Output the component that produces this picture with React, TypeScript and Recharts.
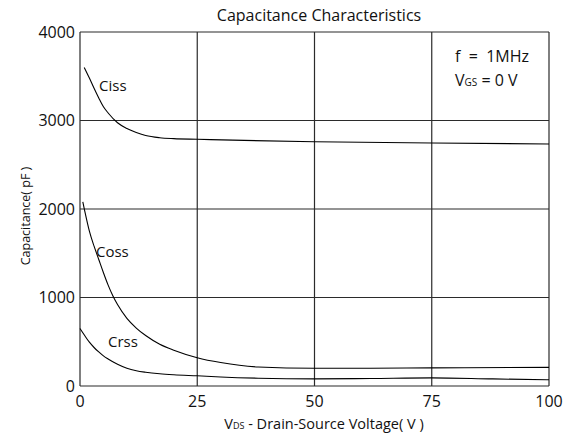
import { LineChart, Line, XAxis, YAxis, CartesianGrid } from "recharts";

// V_DS (V) and capacitance (pF)
const cissVoltage = [0.9, 2, 3, 4, 5, 6, 8, 10, 12, 14, 17, 20, 25, 35, 50, 75, 100];
const cissValues = [3600, 3480, 3365, 3255, 3155, 3085, 2975, 2910, 2865, 2830, 2805, 2795, 2788, 2775, 2760, 2745, 2735];

const cossVoltage = [0.6, 1, 2, 3, 4, 5, 6, 7, 8, 10, 12, 14, 17, 20, 25, 30, 38, 50, 62, 75, 100];
const cossValues = [2080, 1980, 1750, 1580, 1430, 1280, 1140, 1020, 920, 765, 655, 570, 472, 405, 320, 265, 215, 200, 200, 205, 210];

const crssVoltage = [0, 1, 2, 3, 4, 5, 6, 8, 10, 12, 14, 17, 20, 25, 30, 38, 50, 62, 75, 88, 100];
const crssValues = [650, 570, 495, 435, 385, 340, 305, 245, 200, 172, 155, 138, 127, 115, 102, 88, 80, 85, 92, 80, 70];

const xTicks = [0, 25, 50, 75, 100];
const yTicks = [0, 1000, 2000, 3000, 4000];

const toRows = (xs: number[], ys: number[]) => xs.map((v, i) => ({ v, c: ys[i] }));

const ciss = toRows(cissVoltage, cissValues);
const coss = toRows(cossVoltage, cossValues);
const crss = toRows(crssVoltage, crssValues);

const font = "'Open Sans', sans-serif";
const gridColor = "#2b2b2b";

export default function App() {
  return (
    <div style={{ position: "absolute", left: 0, top: 0, width: 576, height: 433, background: "#fff" }}>
      <LineChart
        width={576}
        height={433}
        margin={{ top: 32, right: 27, bottom: 0, left: 0 }}
        style={{ fontFamily: font }}
      >
        <CartesianGrid stroke={gridColor} strokeWidth={1.2} />
        <XAxis
          type="number"
          dataKey="v"
          domain={[0, 100]}
          ticks={xTicks}
          allowDuplicatedCategory={false}
          axisLine={false}
          tickLine={false}
          tickSize={0}
          tickMargin={10}
          height={47}
          tick={{ fill: "#111", fontSize: 16 }}
        />
        <YAxis
          type="number"
          domain={[0, 4000]}
          ticks={yTicks}
          axisLine={false}
          tickLine={false}
          tickSize={0}
          tickMargin={5}
          width={80}
          tick={{ fill: "#111", fontSize: 16 }}
        />
        <Line data={ciss} dataKey="c" type="monotone" stroke="#000" strokeWidth={1.1} dot={false} isAnimationActive={false} />
        <Line data={coss} dataKey="c" type="monotone" stroke="#000" strokeWidth={1.1} dot={false} isAnimationActive={false} />
        <Line data={crss} dataKey="c" type="monotone" stroke="#000" strokeWidth={1.1} dot={false} isAnimationActive={false} />
      </LineChart>

      <svg
        width={576}
        height={433}
        style={{ position: "absolute", left: 0, top: 0, pointerEvents: "none", fontFamily: font }}
      >
        <text x={319} y={21} textAnchor="middle" fontSize={16} fill="#111">
          Capacitance Characteristics
        </text>

        <text x={455} y={62} fontSize={16} fill="#111" xmlSpace="preserve">
          f  =  1MHz
        </text>
        <text x={455} y={86} fontSize={16} fill="#111">
          V<tspan fontSize={10}>GS</tspan> = 0 V
        </text>

        <text x={99} y={91} fontSize={15} fill="#111">Ciss</text>
        <text x={96} y={257} fontSize={15} fill="#111">Coss</text>
        <text x={108} y={347} fontSize={15} fill="#111">Crss</text>

        <text x={324} y={429} textAnchor="middle" fontSize={14.5} fill="#111">
          V<tspan fontSize={9}>DS</tspan> - Drain-Source Voltage( V )
        </text>
        <text
          x={30}
          y={216}
          textAnchor="middle"
          fontSize={12.5}
          fill="#111"
          transform="rotate(-90 30 216)"
        >
          Capacitance( pF )
        </text>
      </svg>
    </div>
  );
}
